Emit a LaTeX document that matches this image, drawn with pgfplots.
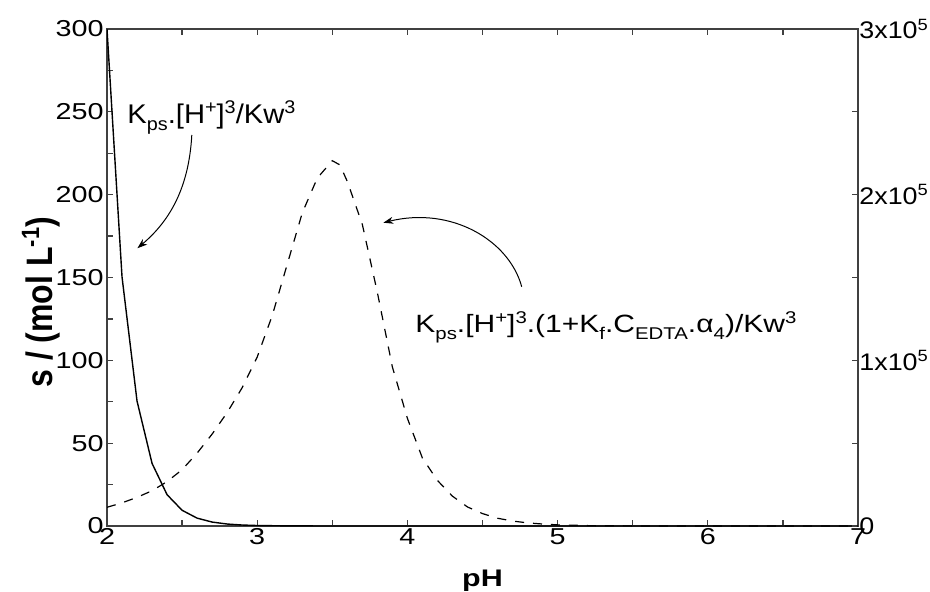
\documentclass[border=0pt]{standalone}
\usepackage{pgfplots}
\pgfplotsset{compat=1.18}
\usepackage{fontspec}
\setmainfont{Liberation Sans}
\usetikzlibrary{arrows.meta}
\newcommand\mysub[1]{\raisebox{-0.28em}{\scalebox{0.68}{#1}}}
\newcommand\mysup[1]{\raisebox{0.36em}{\scalebox{0.68}{#1}}}
\newcommand\hs[1]{\scalebox{1.25}[1]{#1}}
\begin{document}
\begin{tikzpicture}
\path[use as bounding box] (-53.5pt,-32.5pt) rectangle (411.5pt,263pt);
\begin{axis}[
  scale only axis, width=375.5pt, height=248.5pt,
  at={(0,0)}, anchor=south west,
  xmin=2, xmax=7, ymin=0, ymax=300,
  xtick={2,3,4,5,6,7}, ytick={0,50,...,300},
  minor x tick num=1, minor y tick num=1,
  ytick pos=left, xtick pos=both,
  tick align=inside, major tick length=3pt, minor tick length=3pt,
  axis line style={black!75, line width=0.8pt},
  every tick/.style={black!75, line width=0.6pt},
  /pgf/number format/assume math mode=true,
  tick label style={font=\fontsize{11.5}{13}\selectfont},
  xticklabel={\hs{\pgfmathprintnumber{\tick}}},
  yticklabel={\hs{\pgfmathprintnumber{\tick}}},
  yticklabel style={inner xsep=1.5pt},
  xticklabel style={inner ysep=1pt},
  xlabel={\scalebox{1.27}[1]{\bfseries pH}},
  xlabel style={at={(axis description cs:0.5,-0.1227)}, anchor=base, font=\fontsize{12}{14}\selectfont},
  ylabel={\scalebox{1}[1.15]{\bfseries s / (mol\ L\mysup{-1})}},
  ylabel style={at={(axis description cs:-0.0879,0.45)}, anchor=center, font=\fontsize{16}{18}\selectfont},
]
\addplot[black, line width=0.7pt] coordinates {
(2.0,300) (2.1,150.4) (2.2,75.4) (2.3,37.8) (2.4,18.9) (2.5,9.49) (2.6,4.75)
(2.7,2.38) (2.8,1.19) (2.9,0.60) (3.0,0.30) (3.2,0.075) (3.5,0.0095) (4.0,0.0003) (7.0,0)
};
\end{axis}
\begin{axis}[
  scale only axis, width=375.5pt, height=248.5pt,
  at={(0,0)}, anchor=south west,
  xmin=2, xmax=7, ymin=0, ymax=300000,
  axis x line=none, axis y line*=right,
  ytick={0,100000,200000,300000},
  yticklabels={\scalebox{1.12}[1]{0},\scalebox{1.12}[1]{1x10\mysup{5}},\scalebox{1.12}[1]{2x10\mysup{5}},\scalebox{1.12}[1]{3x10\mysup{5}}},
  minor y tick num=1,
  tick align=inside, major tick length=3pt, minor tick length=3pt,
  axis line style={black!75, line width=0.8pt},
  every tick/.style={black!75, line width=0.6pt},
  scaled y ticks=false,
  tick label style={font=\fontsize{12}{14}\selectfont},
  yticklabel style={inner xsep=0.5pt},
]
\addplot[black, line width=0.6pt, dash pattern=on 4.5pt off 4.5pt] coordinates {
(2.0,11300) (2.1,14000) (2.2,17300) (2.3,21300) (2.4,26800) (2.5,34000)
(2.6,44000) (2.7,55500) (2.8,68500) (2.9,83500) (3.0,102000) (3.1,127000)
(3.2,158000) (3.3,189000) (3.4,210000) (3.5,220500) (3.55,218000) (3.6,208000)
(3.7,182000) (3.8,141000) (3.9,96000) (4.0,65000) (4.1,41000) (4.2,27500)
(4.3,18000) (4.4,11500) (4.5,7500) (4.6,4700) (4.7,3000) (4.8,1900)
(4.9,1200) (5.0,700) (5.2,250) (5.5,60) (6.0,5) (7.0,0)
};
\end{axis}
\node[anchor=base west, inner sep=0, font=\fontsize{13.5}{16}\selectfont] at (10pt,201.5pt)
  {\scalebox{1.08}[1]{K\mysub{ps}.[H\mysup{+}]\mysup{3}/Kw\mysup{3}}};
\node[anchor=base west, inner sep=0, font=\fontsize{12.5}{15}\selectfont] at (154pt,97pt)
  {\scalebox{1.2}[1]{K\mysub{ps}.[H\mysup{+}]\mysup{3}.(1+K\mysub{f}.C\mysub{EDTA}.α\mysub{4})/Kw\mysup{3}}};
\draw[black, line width=0.5pt, -{Stealth[length=5pt,width=3.5pt]}]
  (42.4pt,195.5pt) .. controls (41pt,170pt) and (32pt,153pt) .. (15.2pt,138.9pt);
\draw[black, line width=0.5pt, -{Stealth[length=5pt,width=3.5pt]}]
  (207.35pt,119.65pt) .. controls (201pt,143pt) and (172pt,160pt) .. (138.15pt,151.65pt);
\end{tikzpicture}
\end{document}
